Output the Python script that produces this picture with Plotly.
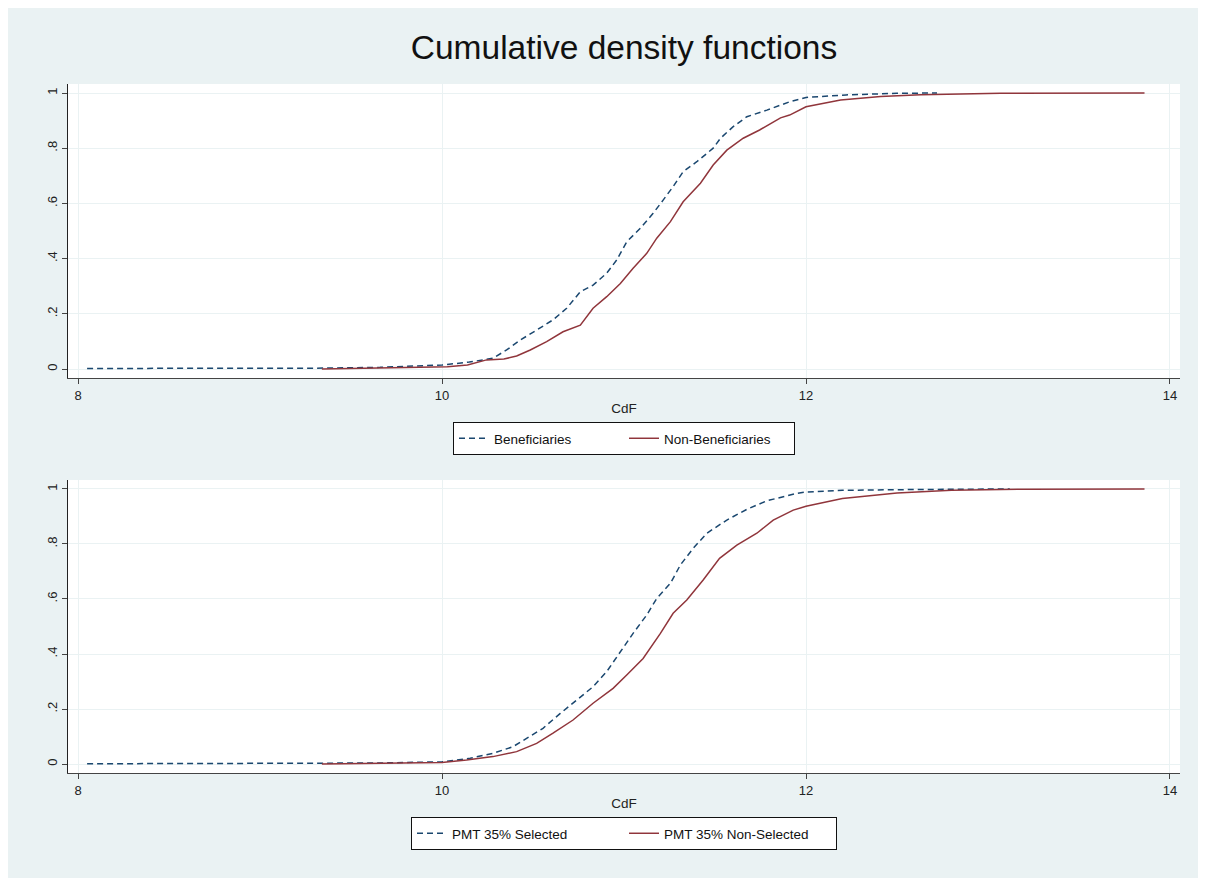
import plotly.graph_objects as go

# ---- data ----
ben_x = [8.05, 8.6, 9.3, 9.66, 10.0, 10.15, 10.28, 10.355, 10.43, 10.52, 10.61, 10.685, 10.76, 10.83,
         10.905, 10.96, 11.015, 11.09, 11.16, 11.215, 11.27, 11.325, 11.40, 11.49, 11.53, 11.60,
         11.675, 11.785, 11.86, 11.91, 12.0, 12.22, 12.5, 12.72]
ben_y = [0.002, 0.002, 0.003, 0.006, 0.0145, 0.025, 0.039, 0.069, 0.105, 0.141, 0.178, 0.22, 0.28, 0.304,
         0.347, 0.395, 0.461, 0.51, 0.564, 0.612, 0.661, 0.715, 0.751, 0.80, 0.836, 0.878,
         0.914, 0.938, 0.957, 0.968, 0.984, 0.993, 0.9988, 1.0]

nonben_x = [9.34, 9.66, 10.03, 10.14, 10.245, 10.34, 10.41, 10.485, 10.575, 10.665, 10.76, 10.83, 10.905,
            10.98, 11.05, 11.125, 11.18, 11.255, 11.325, 11.42, 11.49, 11.565, 11.655, 11.745, 11.86,
            11.91, 12.0, 12.19, 12.41, 12.63, 13.07, 13.86]
nonben_y = [0.0, 0.0025, 0.008, 0.0145, 0.033, 0.036, 0.047, 0.069, 0.099, 0.135, 0.159, 0.22, 0.262,
            0.31, 0.365, 0.419, 0.474, 0.534, 0.606, 0.673, 0.739, 0.793, 0.836, 0.866, 0.910,
            0.92, 0.95, 0.975, 0.987, 0.994, 0.9988, 1.0]

sel_x = [8.05, 8.4, 8.42, 9.3, 9.66, 10.0, 10.155, 10.28, 10.39, 10.465, 10.555, 10.65, 10.74, 10.83,
         10.905, 10.98, 11.05, 11.125, 11.18, 11.255, 11.31, 11.38, 11.455, 11.565, 11.675, 11.785,
         11.95, 12.0, 12.2, 12.6, 13.12]
sel_y = [0.001, 0.001, 0.003, 0.003, 0.004, 0.008, 0.021, 0.039, 0.063, 0.093, 0.13, 0.184, 0.233, 0.281,
         0.336, 0.408, 0.475, 0.542, 0.602, 0.657, 0.724, 0.784, 0.839, 0.887, 0.926, 0.957,
         0.984, 0.989, 0.995, 0.998, 1.0]

nonsel_x = [9.34, 9.66, 10.0, 10.135, 10.28, 10.41, 10.52, 10.61, 10.72, 10.83, 10.94, 11.015, 11.105,
            11.2, 11.27, 11.345, 11.435, 11.525, 11.62, 11.73, 11.82, 11.93, 12.0, 12.2, 12.5, 12.8,
            13.2, 13.86]
nonsel_y = [0.0, 0.002, 0.006, 0.015, 0.027, 0.045, 0.075, 0.112, 0.16, 0.221, 0.275, 0.324, 0.384,
            0.475, 0.548, 0.596, 0.669, 0.748, 0.796, 0.839, 0.887, 0.923, 0.937, 0.965, 0.985, 0.995,
            0.999, 1.0]

y_ticks = [0, 0.2, 0.4, 0.6, 0.8, 1]
y_ticktext = ["0", ".2", ".4", ".6", ".8", "1"]
x_ticks = [8, 10, 12, 14]

NAVY = "#1A476F"
MAROON = "#90353B"
BG = "#EAF2F3"
FONT = "Liberation Sans, Arial, sans-serif"

fig = go.Figure()
fig.add_trace(go.Scatter(x=ben_x, y=ben_y, mode="lines", name="Beneficiaries",
                         line=dict(color=NAVY, width=1.5, dash="6px,4px"),
                         xaxis="x", yaxis="y", legend="legend"))
fig.add_trace(go.Scatter(x=nonben_x, y=nonben_y, mode="lines", name="Non-Beneficiaries",
                         line=dict(color=MAROON, width=1.5),
                         xaxis="x", yaxis="y", legend="legend"))
fig.add_trace(go.Scatter(x=sel_x, y=sel_y, mode="lines", name="PMT 35% Selected",
                         line=dict(color=NAVY, width=1.5, dash="6px,4px"),
                         xaxis="x2", yaxis="y2", legend="legend2"))
fig.add_trace(go.Scatter(x=nonsel_x, y=nonsel_y, mode="lines", name="PMT 35% Non-Selected",
                         line=dict(color=MAROON, width=1.5),
                         xaxis="x2", yaxis="y2", legend="legend2"))

xrange = [7.945, 14.055]
yrange = [-0.0326, 1.0326]

common_x = dict(range=xrange, tickvals=x_ticks, showgrid=True, gridcolor=BG, gridwidth=1,
                zeroline=False, showline=True, linecolor="#444444", linewidth=1,
                ticks="outside", ticklen=5, tickcolor="#444444",
                tickfont=dict(size=13, color="#222222", family=FONT),
                title=dict(text="CdF", font=dict(size=13.5, color="#222222", family=FONT), standoff=1))
common_y = dict(range=yrange, tickvals=y_ticks, ticktext=y_ticktext, tickangle=-90,
                showgrid=True, gridcolor=BG, gridwidth=1, zeroline=False,
                showline=True, linecolor="#222222", linewidth=1,
                ticks="outside", ticklen=5, tickcolor="#444444",
                tickfont=dict(size=13, color="#222222", family=FONT))

legend_common = dict(orientation="h", x=0.5, xanchor="center", yanchor="top",
                     bgcolor="white", bordercolor="#111111", borderwidth=1,
                     entrywidthmode="pixels",
                     font=dict(size=13.5, color="#111111", family=FONT))

fig.update_layout(
    width=1206, height=878,
    margin=dict(l=60, r=34, t=76, b=113),
    paper_bgcolor=BG, plot_bgcolor="white",
    font=dict(family=FONT),
    title=dict(text="Cumulative density functions", x=(60 + 1112 / 2) / 1206, xanchor="center",
               y=1 - 39 / 878, yanchor="middle",
               font=dict(size=33.5, color="#111111", family=FONT)),
    xaxis=dict(domain=[0, 1], anchor="y", **common_x),
    yaxis=dict(domain=[395 / 689, 1], anchor="x", **common_y),
    xaxis2=dict(domain=[0, 1], anchor="y2", **common_x),
    yaxis2=dict(domain=[0, 293 / 689], anchor="x2", **common_y),
    legend=dict(y=(773 - 422) / 689, entrywidth=125, **legend_common),
    legend2=dict(y=(773 - 817) / 689, entrywidth=167, **legend_common),
)

fig.write_html("out.html")
